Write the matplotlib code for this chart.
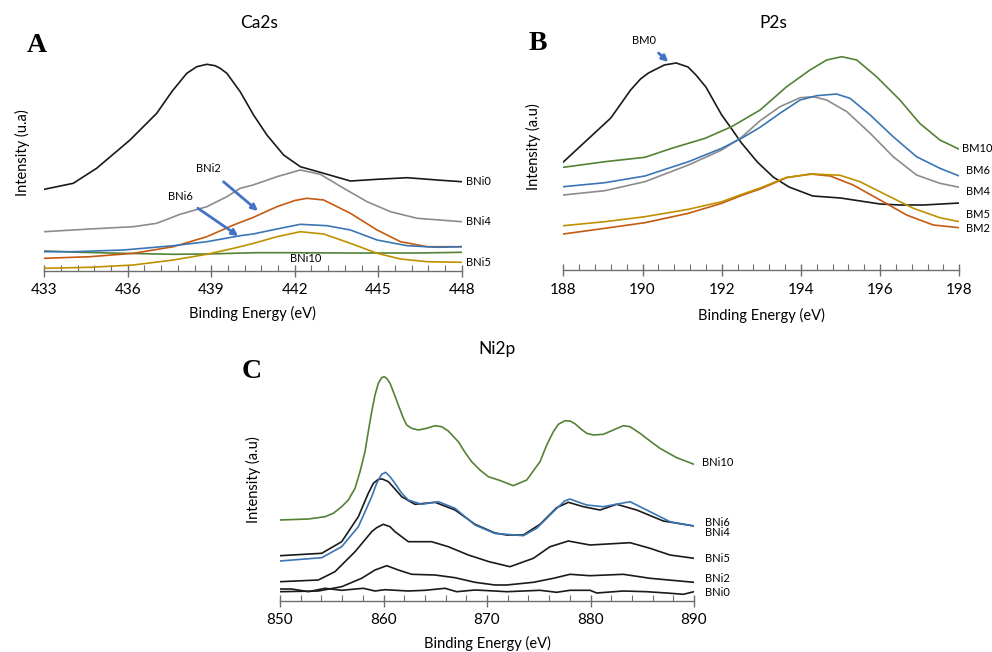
import matplotlib.pyplot as plt
import numpy as np

plt.rcParams['font.family'] = ['Lato', 'DejaVu Sans']

# ---- Panel A: Ca2s (binding energy eV, intensity a.u.) ----
ca_bni0_e = [433.0, 434.04, 434.88, 436.08, 437.04, 437.6, 438.12, 438.48, 438.84, 439.14,
             439.32, 439.56, 440.04, 440.52, 441.0, 441.6, 442.2, 443.04, 444.0, 444.96,
             446.04, 447.12, 448.0]
ca_bni0_i = [81.7, 87.7, 102.7, 131, 157.7, 180, 197.7, 204.3, 206.7, 205.3,
             202.7, 197.7, 179.3, 156, 136, 116, 104.3, 97.7, 90, 91.7,
             93.3, 91, 89.3]
ca_bni4_e = [433.0, 434.64, 436.2, 437.04, 437.88, 438.84, 439.56, 440.04, 440.5, 441.36,
             442.2, 442.92, 443.76, 444.6, 445.44, 446.4, 448.0]
ca_bni4_i = [39.3, 42, 44.3, 47.7, 56.7, 64.3, 74.3, 82.7, 86, 94.3,
             101, 96.7, 82.7, 69.3, 59.3, 52.7, 49.3]
ca_bni2_e = [433.0, 434.64, 436.2, 437.64, 438.84, 439.8, 440.5, 441.36, 442.0, 442.44,
             443.04, 444.0, 444.96, 445.8, 446.76, 448.0]
ca_bni2_i = [12.7, 14.3, 17.7, 24.3, 34.3, 46, 53.5, 64.3, 70.5, 72.7,
             71, 57.7, 41, 29.3, 24.3, 24.3]
ca_bni6_e = [433.0, 434.04, 435.84, 437.64, 438.84, 440.04, 440.5, 441.36, 442.2, 443.16,
             444.0, 444.96, 446.04, 447.12, 448.0]
ca_bni6_i = [19.3, 19.3, 21, 25.3, 29.3, 35.3, 37, 42, 46.7, 45.3,
             41, 31, 25.3, 23.7, 24.3]
ca_bni5_e = [433.0, 434.64, 436.2, 437.64, 438.84, 439.8, 440.5, 441.36, 442.2, 443.04,
             444.0, 444.96, 445.8, 446.76, 448.0]
ca_bni5_i = [2.7, 3.7, 6, 11, 16.7, 22.7, 27.5, 34.3, 39.3, 37,
             27.7, 17.7, 12, 9.3, 8.7]
ca_bni10_e = [433.0, 434.28, 435.84, 437.64, 438.84, 440.58, 441.6, 444.0, 446.4, 448.0]
ca_bni10_i = [20, 18.7, 17.7, 16.7, 17, 18.3, 18.3, 18, 18, 18.7]

# ---- Panel B: P2s ----
p_bm0_e = [188.0, 188.6, 189.2, 189.7, 189.95, 190.15, 190.55, 190.85, 191.15, 191.35, 191.6,
           192.0, 192.2, 192.5, 192.9, 193.3, 193.7, 194.3, 195.0, 195.5, 196.0, 196.5,
           197.1, 198.0]
p_bm0_i = [108, 130, 152, 180, 191, 197, 205, 207, 203, 195, 183,
           155, 144, 127, 108, 93, 83, 74, 72, 69, 66, 65,
           65, 67]
p_bm10_e = [188.0, 189.05, 190.06, 190.74, 191.58, 192.25, 192.97, 193.64, 194.23, 194.65,
            195.03, 195.41, 195.91, 196.5, 197.0, 197.51, 198.0]
p_bm10_i = [102.7, 108.3, 112.7, 121.7, 131.7, 143.3, 160, 183.3, 200, 210,
            213.3, 210, 193.3, 170, 146.7, 130, 120.7]
p_bm6_e = [188.0, 189.05, 190.06, 191.16, 192.0, 192.5, 192.97, 193.47, 193.98, 194.4,
           194.9, 195.24, 195.75, 196.33, 196.92, 197.51, 198.0]
p_bm6_i = [83.3, 87.3, 94, 108.3, 121.7, 131.7, 142.7, 156.7, 170, 174.3,
           176, 171.7, 155, 133.3, 113.3, 101.7, 94]
p_bm4_e = [188.0, 189.05, 190.06, 191.16, 192.0, 192.5, 192.97, 193.47, 193.98, 194.31,
           194.65, 195.16, 195.75, 196.33, 196.92, 197.51, 198.0]
p_bm4_i = [75, 79.3, 88.3, 105, 120, 132.7, 149.3, 163.3, 172.3, 173.3,
           170, 158.3, 136.7, 113.3, 95, 86.7, 82.7]
p_bm5_e = [188.0, 189.05, 190.06, 191.16, 192.0, 192.5, 192.97, 193.64, 194.31, 194.99,
           195.49, 196.16, 196.84, 197.51, 198.0]
p_bm5_i = [44.3, 48.3, 53.3, 60.7, 68.3, 75.5, 82, 92.7, 96, 94.7,
           88.3, 75, 61.7, 52.3, 48.3]
p_bm2_e = [188.0, 189.05, 190.06, 191.16, 192.0, 192.5, 192.97, 193.64, 194.23, 194.74,
           195.32, 196.0, 196.67, 197.34, 198.0]
p_bm2_i = [36, 41.7, 47.3, 56.7, 66.7, 74.5, 81, 92.3, 96, 94,
           85, 70, 55, 45, 42.3]

# ---- Panel C: Ni2p ----
ni_bni10_e = [850.0, 852.74, 854.35, 855.15, 855.96, 856.6, 857.25, 857.73, 858.21, 858.53,
              858.86, 859.18, 859.5, 859.82, 860.05, 860.31, 860.63, 860.95, 861.43, 861.92,
              862.24, 862.72, 863.37, 864.17, 864.98, 865.62, 866.26, 867.23, 867.87, 868.52,
              869.32, 870.13, 871.26, 872.54, 873.84, 875.12, 875.77, 876.41, 876.89, 877.54,
              878.02, 878.5, 878.99, 879.63, 880.27, 881.24, 882.2, 883.17, 883.82, 884.78,
              885.75, 886.71, 888.33, 890.0]
ni_bni10_i = [81, 82, 84.3, 87.7, 94.3, 101, 112.7, 129.3, 149.3, 169.3,
              189.3, 206, 217.7, 223.3, 224.3, 222.7, 217.7, 209.3, 196, 182.7,
              176, 172.7, 171, 172.7, 175.3, 174.3, 170, 159.3, 148.7, 139.3,
              131, 124.3, 120.5, 115.3, 121, 139.3, 156, 169.3, 176.7, 180.3,
              180, 177.3, 172.7, 167.7, 166, 166.7, 171, 175.3, 174.3, 167.7,
              160, 152.7, 143.3, 136.7]
ni_bni6_e = [850.0, 854.03, 855.96, 857.57, 858.86, 859.34, 859.82, 860.21, 860.63, 861.11,
             861.76, 862.4, 863.69, 865.3, 866.91, 868.84, 870.77, 871.9, 873.51, 874.8,
             876.41, 877.5, 878.02, 878.8, 879.63, 881.24, 883.82, 885.75, 887.68, 890.0]
ni_bni6_i = [40, 43.3, 54.3, 74.3, 104.3, 117.7, 126.7, 128.7, 124.3, 117.7,
             107.7, 101, 96.7, 99.3, 92.7, 76, 67.5, 66.7, 65.3, 72.7,
             89.3, 100, 102, 99, 96, 94.3, 99.3, 89.3, 79.3, 75]
ni_bni4_e = [850.0, 854.03, 855.96, 857.57, 858.53, 859.02, 859.5, 859.89, 860.47, 861.11,
             861.76, 863.04, 864.98, 866.91, 868.84, 870.77, 871.9, 873.51, 875.12, 876.73,
             877.86, 879.31, 880.92, 882.53, 884.46, 887.03, 890.0]
ni_bni4_i = [45.3, 47.7, 59.3, 84.3, 107.7, 117.7, 121.7, 122, 119.3, 112,
             104.3, 96.7, 98.7, 91, 76.7, 68, 66, 66, 76.7, 93.3,
             98.7, 94.3, 91, 96.7, 91, 80, 75]
ni_bni5_e = [850.0, 853.7, 855.31, 857.25, 858.86, 859.34, 859.98, 860.63, 861.11, 862.4,
             864.65, 866.26, 868.2, 870.2, 872.22, 874.48, 876.09, 877.86, 879.95, 883.82,
             885.75, 887.68, 890.0]
ni_bni5_i = [19.3, 21, 29.3, 49.3, 69.3, 73.3, 76.7, 74.3, 69.3, 59.3,
             59.3, 54.3, 46, 39.3, 34.3, 42.7, 54.3, 60, 56, 58.3,
             52.7, 46, 42.7]
ni_bni2_e = [850.0, 853.7, 855.96, 857.89, 859.18, 860.31, 861.43, 862.72, 864.98, 866.91,
             868.84, 870.77, 871.9, 874.48, 876.41, 878.02, 879.95, 883.17, 885.75, 890.0]
ni_bni2_i = [9.3, 10, 14.3, 22.7, 31, 35.3, 31, 26.7, 26, 23.3,
             18.7, 16, 16, 18.7, 22.7, 26.7, 25.3, 26.7, 22.7, 18.7]
ni_bni0_e = [850.0, 851.13, 852.74, 854.35, 855.96, 858.05, 859.18, 860.14, 862.4, 864.01,
             865.94, 867.07, 868.84, 870.77, 871.9, 875.12, 876.73, 878.02, 879.95, 880.6,
             883.17, 885.43, 887.36, 888.97, 890.0]
ni_bni0_i = [12, 12, 9.3, 12.7, 10.7, 12.7, 10, 11.3, 10, 10.7,
             12.7, 9.3, 11, 10, 9.3, 10.7, 8.7, 10.7, 10.7, 8,
             10, 9.3, 8, 6.7, 9.3]

BLACK = '#1a1a1a'
GRAY = '#8c8c8c'
ORANGE = '#c55a11'
BLUE = '#3a76b4'
GOLD = '#bf9000'
GREEN = '#548235'
ARROW = '#4472c4'
AXIS = '#6e6e6e'

W, H = 992, 652
fig = plt.figure(figsize=(W / 100, H / 100), dpi=100)


def px_axes(x0, x1, ytop, ybot):
    return fig.add_axes([x0 / W, 1 - ybot / H, (x1 - x0) / W, (ybot - ytop) / H])


def style(ax, xmin, xmax, major, nminor, ytop):
    ax.set_xlim(xmin, xmax)
    ax.set_ylim(0, ytop)
    for s in ['left', 'top', 'right']:
        ax.spines[s].set_visible(False)
    ax.spines['bottom'].set_color(AXIS)
    ax.spines['bottom'].set_linewidth(1.0)
    ax.set_yticks([])
    majors = np.arange(xmin, xmax + 0.001, major)
    ax.set_xticks(majors)
    ax.set_xticklabels([f'{m:g}' for m in majors])
    ax.set_xticks(np.linspace(xmin, xmax, int(round((xmax - xmin) / major)) * nminor + 1),
                  minor=True)
    ax.tick_params(axis='x', which='major', direction='inout', length=8, width=1.0,
                   color=AXIS, labelsize=11, pad=5)
    ax.tick_params(axis='x', which='minor', direction='in', length=4, width=0.8, color=AXIS)
    ax.patch.set_alpha(0)


lw = 1.2
kw = dict(lw=lw, solid_joinstyle='round')
arrow = dict(arrowstyle='-|>', color=ARROW, lw=2, mutation_scale=9, shrinkA=5, shrinkB=0)

# Panel A
axA = px_axes(44.3, 461.7, 55, 271)
axA.plot(ca_bni0_e, ca_bni0_i, color=BLACK, **kw)
axA.plot(ca_bni4_e, ca_bni4_i, color=GRAY, **kw)
axA.plot(ca_bni10_e, ca_bni10_i, color=GREEN, **kw)
axA.plot(ca_bni2_e, ca_bni2_i, color=ORANGE, **kw)
axA.plot(ca_bni6_e, ca_bni6_i, color=BLUE, **kw)
axA.plot(ca_bni5_e, ca_bni5_i, color=GOLD, **kw)
style(axA, 433, 448, 3, 5, 216)
for txt, yv in [('BNi0', ca_bni0_i[-1]), ('BNi4', ca_bni4_i[-1]), ('BNi5', ca_bni5_i[-1])]:
    axA.annotate(txt, (448, yv), xytext=(3, 0), textcoords='offset points',
                 ha='left', va='center', fontsize=8, annotation_clip=False)
axA.text(442.4, 12, 'BNi10', ha='center', va='center', fontsize=8)
axA.annotate('BNi2', xy=(440.68, 60), xytext=(438.9, 102), ha='center', va='center',
             fontsize=8, arrowprops=arrow)
axA.annotate('BNi6', xy=(439.97, 35), xytext=(437.88, 75), ha='center', va='center',
             fontsize=8, arrowprops=arrow)

# Panel B
axB = px_axes(563.3, 959.3, 50, 270)
axB.plot(p_bm0_e, p_bm0_i, color=BLACK, **kw)
axB.plot(p_bm10_e, p_bm10_i, color=GREEN, **kw)
axB.plot(p_bm4_e, p_bm4_i, color=GRAY, **kw)
axB.plot(p_bm6_e, p_bm6_i, color=BLUE, **kw)
axB.plot(p_bm2_e, p_bm2_i, color=ORANGE, **kw)
axB.plot(p_bm5_e, p_bm5_i, color=GOLD, **kw)
style(axB, 188, 198, 2, 5, 220)
for txt, yv in [('BM10', 121), ('BM6', 99), ('BM4', 79), ('BM5', 56), ('BM2', 42)]:
    axB.annotate(txt, (198, yv), xytext=(2 if txt == 'BM10' else 5, 0),
                 textcoords='offset points', ha='left', va='center', fontsize=8,
                 annotation_clip=False)
axB.annotate('BM0', xy=(190.65, 208), xytext=(190.05, 230), ha='center', va='center',
             fontsize=8, annotation_clip=False, arrowprops=arrow)

# Panel C
axC = px_axes(280, 694, 370, 601)
axC.plot(ni_bni10_e, ni_bni10_i, color=GREEN, **kw)
axC.plot(ni_bni4_e, ni_bni4_i, color=BLACK, **kw)
axC.plot(ni_bni6_e, ni_bni6_i, color=BLUE, **kw)
axC.plot(ni_bni5_e, ni_bni5_i, color=BLACK, **kw)
axC.plot(ni_bni2_e, ni_bni2_i, color=BLACK, **kw)
axC.plot(ni_bni0_e, ni_bni0_i, color=BLACK, **kw)
style(axC, 850, 890, 10, 5, 231)
for txt, yv, dx in [('BNi10', 138, 6), ('BNi6', 79, 8), ('BNi4', 69, 8), ('BNi5', 43, 8),
                    ('BNi2', 22, 8), ('BNi0', 8, 8)]:
    axC.annotate(txt, (890, yv), xytext=(dx, 0), textcoords='offset points',
                 ha='left', va='center', fontsize=8, annotation_clip=False)

# Titles, axis labels and panel letters
fig.text(259 / W, 1 - 23 / H, 'Ca2s', ha='center', va='center', fontsize=12.5)
fig.text(773 / W, 1 - 23 / H, 'P2s', ha='center', va='center', fontsize=12.5)
fig.text(497 / W, 1 - 349 / H, 'Ni2p', ha='center', va='center', fontsize=12.5)
fig.text(252 / W, 1 - 313 / H, 'Binding Energy (eV)', ha='center', va='center', fontsize=10.5)
fig.text(761 / W, 1 - 315 / H, 'Binding Energy (eV)', ha='center', va='center', fontsize=10.5)
fig.text(487 / W, 1 - 643 / H, 'Binding Energy (eV)', ha='center', va='center', fontsize=10.5)
fig.text(22 / W, 1 - 153 / H, 'Intensity (u.a)', ha='center', va='center', fontsize=10.5,
         rotation=90)
fig.text(533 / W, 1 - 147 / H, 'Intensity (a.u)', ha='center', va='center', fontsize=10.5,
         rotation=90)
fig.text(253 / W, 1 - 480 / H, 'Intensity (a.u)', ha='center', va='center', fontsize=10.5,
         rotation=90)
for letter, x, y in [('A', 37, 45), ('B', 538, 43), ('C', 252, 372)]:
    fig.text(x / W, 1 - y / H, letter, ha='center', va='center', fontsize=20,
             fontweight='bold', family='Liberation Serif')

fig.savefig('out.png', dpi=100)
